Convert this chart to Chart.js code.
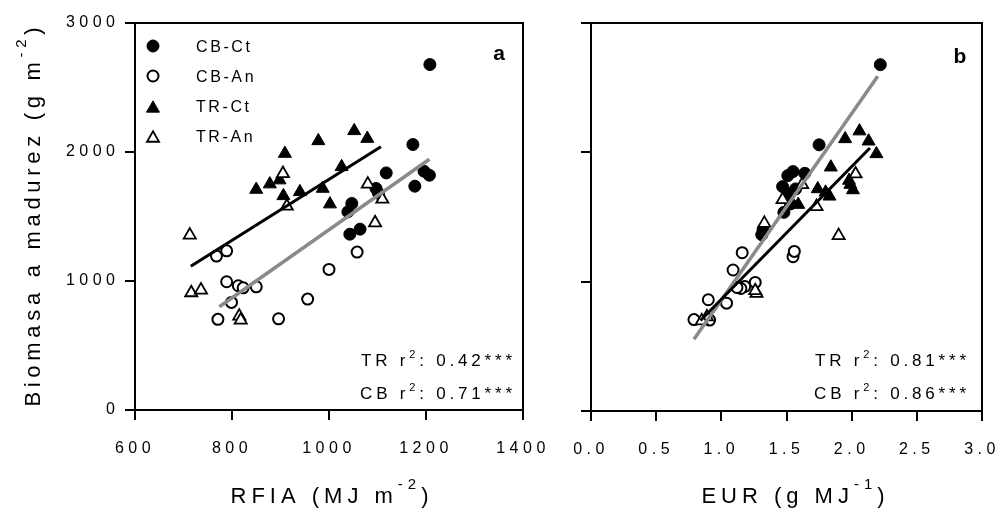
<!DOCTYPE html>
<html><head><meta charset="utf-8">
<script src="https://cdn.jsdelivr.net/npm/chart.js@4.4.0/dist/chart.umd.min.js"></script>
<style>
html,body{margin:0;padding:0;background:#fff;}
#wrap{position:relative;width:999px;height:509px;overflow:hidden;}
canvas{position:absolute;left:0;top:0;}
</style></head><body>
<div id="wrap"><canvas id="ca" width="999" height="509"></canvas><canvas id="cb" width="999" height="509"></canvas></div>
<script>
// ---------------- data ----------------
const rfiaTicks = [600, 800, 1000, 1200, 1400];
const eurTicks = [0, 0.5, 1, 1.5, 2, 2.5, 3];
const biomasaTicks = [0, 1000, 2000, 3000];

const seriesNames = ['CB-Ct', 'CB-An', 'TR-Ct', 'TR-An'];

const cbCtRfia    = [1208, 1173, 1118, 1177, 1196, 1207, 1097, 1102, 1047, 1039, 1043, 1064];
const cbCtEur     = [2.22, 1.75, 1.64, 1.47, 1.55, 1.51, 1.57, 1.52, 1.53, 1.48, 1.31, 1.32];
const cbCtBiomasa = [2678, 2058, 1838, 1735, 1851, 1820, 1717, 1680, 1601, 1536, 1363, 1402];

const cbAnRfia    = [768, 789, 789, 813, 823, 850, 799, 771, 896, 956, 1000, 1058];
const cbAnEur     = [1.55, 1.56, 1.26, 1.18, 1.15, 1.12, 1.04, 0.91, 0.79, 0.90, 1.09, 1.16];
const cbAnBiomasa = [1193, 1234, 994, 963, 947, 955, 834, 703, 707, 860, 1090, 1224];

const trCtRfia    = [909, 978, 1052, 1079, 850, 878, 898, 906, 940, 987, 1002, 1026];
const trCtEur     = [2.19, 2.13, 2.06, 1.95, 2.01, 1.99, 1.98, 1.83, 1.80, 1.74, 1.59, 1.84];
const trCtBiomasa = [1988, 2086, 2164, 2104, 1709, 1751, 1782, 1660, 1691, 1717, 1596, 1885];

const trAnRfia    = [713, 716, 736, 905, 913, 815, 818, 1080, 1110, 1095];
const trAnEur     = [1.90, 1.27, 1.26, 2.03, 1.73, 0.89, 0.85, 1.62, 1.47, 1.33];
const trAnBiomasa = [1356, 909, 930, 1833, 1580, 728, 697, 1751, 1634, 1451];

// regression line end points
const trFitRfia = [715, 1107];   const trFitBiomasaA = [1115, 2040];
const cbFitRfia = [774, 1207];   const cbFitBiomasaA = [800, 1944];
const trFitEur  = [0.84, 2.14];  const trFitBiomasaB = [700, 2033];
const cbFitEur  = [0.79, 2.20];  const cbFitBiomasaB = [555, 2588];

// texts
const yTitleParts  = ['Biomasa a madurez (g m', '-2', ')'];
const xTitleAParts = ['RFIA (MJ m', '-2', ')'];
const xTitleBParts = ['EUR (g MJ', '-1', ')'];
const r2AParts = [['TR r', '2', ': 0.42***'], ['CB r', '2', ': 0.71***']];
const r2BParts = [['TR r', '2', ': 0.81***'], ['CB r', '2', ': 0.86***']];
const panelLetters = ['a', 'b'];

// ---------------- styles ----------------
const FONT = 'Arial, "Liberation Sans", Helvetica, sans-serif';
const TICK_LS = 4.5;
Chart.defaults.font.family = FONT;
Chart.defaults.color = '#000';

const markerStyles = [
  {pointStyle: 'circle',   pointRadius: 6,   pointBackgroundColor: '#000', pointBorderColor: '#000', pointBorderWidth: 1},
  {pointStyle: 'circle',   pointRadius: 5.5, pointBackgroundColor: '#fff', pointBorderColor: '#000', pointBorderWidth: 2},
  {pointStyle: 'triangle', pointRadius: 7.5, pointBackgroundColor: '#000', pointBorderColor: '#000', pointBorderWidth: 1},
  {pointStyle: 'triangle', pointRadius: 7,   pointBackgroundColor: '#fff', pointBorderColor: '#000', pointBorderWidth: 1.8}
];

function pts(xs, ys) { return xs.map((x, i) => ({x: x, y: ys[i]})); }

function makeDatasets(seriesXY, trFit, cbFit) {
  const ds = [];
  ds.push({type: 'line', label: 'TR fit', data: trFit, borderColor: '#000', borderWidth: 3, pointRadius: 0, showLine: true, fill: false, order: 0});
  ds.push({type: 'line', label: 'CB fit', data: cbFit, borderColor: '#8a8a8a', borderWidth: 3.5, pointRadius: 0, showLine: true, fill: false, order: 0});
  seriesXY.forEach((d, i) => {
    ds.push(Object.assign({label: seriesNames[i], data: d, showLine: false, order: 4 - i}, markerStyles[i]));
  });
  return ds;
}

function tickAxis(extra) {
  return Object.assign({
    type: 'linear',
    grid: {display: true, drawOnChartArea: false, drawTicks: true, tickLength: 10, lineWidth: 2, color: '#000', tickColor: '#000'},
    border: {display: true, width: 2, color: '#000'}
  }, extra);
}
function frameAxis(position, horiz) {
  return {
    type: 'linear', position: position, display: true,
    grid: {display: false, drawTicks: false},
    ticks: {display: false},
    border: {display: true, width: 2, color: '#000'},
    afterFit: s => { if (horiz) s.height = 0; else s.width = 0; s.paddingLeft = s.paddingRight = s.paddingTop = s.paddingBottom = 0; }
  };
}

function drawRich(ctx, parts, x, y, opt) {
  ctx.save();
  ctx.translate(x, y);
  if (opt.rotate) ctx.rotate(-Math.PI / 2);
  ctx.fillStyle = '#000';
  ctx.textBaseline = 'alphabetic';
  ctx.textAlign = 'left';
  ctx.letterSpacing = opt.ls + 'px';
  const fonts = parts.map((p, i) => (opt.bold ? 'bold ' : '') + (i % 2 === 1 ? opt.supSize : opt.size) + 'px ' + FONT);
  const widths = parts.map((p, i) => { ctx.font = fonts[i]; return ctx.measureText(p).width; });
  const total = widths.reduce((a, b) => a + b, 0) - opt.ls;
  let cx = opt.align === 'center' ? -total / 2 : (opt.align === 'right' ? -total : 0);
  parts.forEach((p, i) => {
    ctx.font = fonts[i];
    ctx.fillText(p, cx, i % 2 === 1 ? -opt.supRise : 0);
    cx += widths[i];
  });
  ctx.restore();
}

function drawMarker(ctx, st, x, y) {
  ctx.save();
  ctx.fillStyle = st.pointBackgroundColor;
  ctx.strokeStyle = st.pointBorderColor;
  ctx.lineWidth = st.pointBorderWidth;
  const r = st.pointRadius;
  ctx.beginPath();
  if (st.pointStyle === 'circle') {
    ctx.arc(x, y, r, 0, Math.PI * 2);
  } else {
    const cy = y + r / 4;
    ctx.moveTo(x, cy - r);
    ctx.lineTo(x + r * Math.sqrt(3) / 2, cy + r / 2);
    ctx.lineTo(x - r * Math.sqrt(3) / 2, cy + r / 2);
    ctx.closePath();
  }
  ctx.fill();
  ctx.stroke();
  ctx.restore();
}

function textPlugin(cfg) {
  return {
    id: 'texts' + cfg.id,
    beforeDraw(chart) { chart.ctx.letterSpacing = TICK_LS + 'px'; },
    afterDraw(chart) {
      const ctx = chart.ctx;
      const ca = chart.chartArea;
      // x title
      drawRich(ctx, cfg.xTitle, cfg.xTitleX, 503, {size: 22, supSize: 15, supRise: 14, ls: 5, align: 'center'});
      // y title
      if (cfg.yTitle) drawRich(ctx, cfg.yTitle, 40, 217, {size: 22, supSize: 15, supRise: 14, ls: 4.7, align: 'center', rotate: true});
      // r2 texts
      cfg.r2.forEach((parts, k) => drawRich(ctx, parts, cfg.r2Right, k === 0 ? 366 : 399, {size: 17, supSize: 11, supRise: 8, ls: 3.8, align: 'right'}));
      // panel letter
      ctx.save();
      ctx.letterSpacing = '0px';
      ctx.font = 'bold 21px ' + FONT;
      ctx.textAlign = 'center';
      ctx.textBaseline = 'alphabetic';
      ctx.fillStyle = '#000';
      ctx.fillText(cfg.letter, cfg.letterX, cfg.letterY);
      ctx.restore();
      // legend
      if (cfg.legend) {
        const ys = [46, 76, 106.5, 136.5];
        seriesNames.forEach((name, i) => {
          drawMarker(ctx, markerStyles[i], 153, ys[i]);
          ctx.save();
          ctx.letterSpacing = '2.6px';
          ctx.font = '16px ' + FONT;
          ctx.fillStyle = '#000';
          ctx.textAlign = 'left';
          ctx.textBaseline = 'middle';
          ctx.fillText(name, 196, ys[i] + 1.5);
          ctx.restore();
        });
      }
      ctx.letterSpacing = TICK_LS + 'px';
    }
  };
}

function setTicks(arr) { return s => { s.ticks = arr.map(v => ({value: v})); }; }
function noPad(h) { return s => { if (h !== undefined) s.height = h; s.paddingLeft = s.paddingRight = 0; }; }

// ---------------- chart a ----------------
new Chart(document.getElementById('ca'), {
  type: 'scatter',
  data: {datasets: makeDatasets(
    [pts(cbCtRfia, cbCtBiomasa), pts(cbAnRfia, cbAnBiomasa), pts(trCtRfia, trCtBiomasa), pts(trAnRfia, trAnBiomasa)],
    pts(trFitRfia, trFitBiomasaA), pts(cbFitRfia, cbFitBiomasaA))},
  options: {
    responsive: false, animation: false, devicePixelRatio: 1,
    layout: {padding: {left: 0, right: 476, top: 23, bottom: 0}},
    plugins: {legend: {display: false}, tooltip: {enabled: false}},
    scales: {
      x: tickAxis({position: 'bottom', min: 600, max: 1400,
        ticks: {font: {size: 16}, color: '#000', padding: 19, maxRotation: 0, autoSkip: false, callback: v => String(v)},
        afterBuildTicks: setTicks(rfiaTicks), afterFit: noPad(99)}),
      y: tickAxis({position: 'left', min: 0, max: 3000,
        ticks: {font: {size: 16}, color: '#000', padding: 5.5, autoSkip: false, callback: v => String(v)},
        afterBuildTicks: setTicks(biomasaTicks), afterFit: s => { s.width = 135; }}),
      x2: frameAxis('top', true),
      y2: frameAxis('right', false)
    }
  },
  plugins: [textPlugin({id: 'a', xTitle: xTitleAParts, xTitleX: 329.5, yTitle: yTitleParts, r2: r2AParts, r2Right: 512, letter: panelLetters[0], letterX: 499, letterY: 60, legend: true})]
});

// ---------------- chart b ----------------
new Chart(document.getElementById('cb'), {
  type: 'scatter',
  data: {datasets: makeDatasets(
    [pts(cbCtEur, cbCtBiomasa), pts(cbAnEur, cbAnBiomasa), pts(trCtEur, trCtBiomasa), pts(trAnEur, trAnBiomasa)],
    pts(trFitEur, trFitBiomasaB), pts(cbFitEur, cbFitBiomasaB))},
  options: {
    responsive: false, animation: false, devicePixelRatio: 1,
    layout: {padding: {left: 560, right: 17, top: 23, bottom: 0}},
    plugins: {legend: {display: false}, tooltip: {enabled: false}},
    scales: {
      x: tickAxis({position: 'bottom', min: 0, max: 3,
        ticks: {font: {size: 16}, color: '#000', padding: 19, maxRotation: 0, autoSkip: false, callback: v => Number(v).toFixed(1)},
        afterBuildTicks: setTicks(eurTicks), afterFit: noPad(98)}),
      y: tickAxis({position: 'left', min: 0, max: 3000,
        ticks: {display: false},
        afterBuildTicks: setTicks(biomasaTicks), afterFit: s => { s.width = 31; }}),
      x2: frameAxis('top', true),
      y2: frameAxis('right', false)
    }
  },
  plugins: [textPlugin({id: 'b', xTitle: xTitleBParts, xTitleX: 793, yTitle: null, r2: r2BParts, r2Right: 966, letter: panelLetters[1], letterX: 960, letterY: 63, legend: false})]
});
</script>
</body></html>
